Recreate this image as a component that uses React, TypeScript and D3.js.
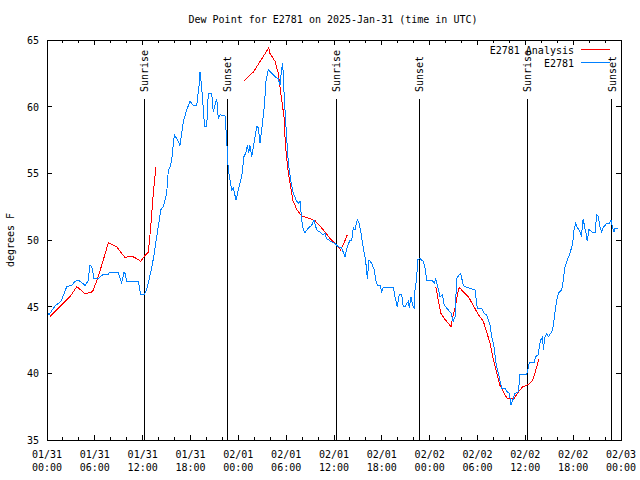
import React from "react";
import * as d3 from "d3";

const TITLE = "Dew Point for E2781 on 2025-Jan-31 (time in UTC)";
const Y_LABEL = "degrees F";
const yTicks = [35, 40, 45, 50, 55, 60, 65];
const xTickHours = [0, 6, 12, 18, 24, 30, 36, 42, 48, 54, 60, 66, 72];
const xTickDates = ["01/31", "01/31", "01/31", "01/31", "02/01", "02/01", "02/01", "02/01", "02/02", "02/02", "02/02", "02/02", "02/03"];
const xTickTimes = ["00:00", "06:00", "12:00", "18:00", "00:00", "06:00", "12:00", "18:00", "00:00", "06:00", "12:00", "18:00", "00:00"];
const xMinorHours = d3.range(0, 73, 2);

const sunLabels = ["Sunrise", "Sunset", "Sunrise", "Sunset", "Sunrise", "Sunset"];
const sunHours = [12.2, 22.62, 36.28, 46.7, 60.25, 70.83];

const seriesNames = ["E2781 Analysis", "E2781"];
const seriesColors = ["#ff0000", "#0080ff"];

// [hours since 01/31 00:00 UTC, dew point °F]
const observed: [number, number][] = [
  [0, 44.7], [0.25, 44.4], [1.0, 45.05], [1.76, 45.4], [2.47, 46.5], [3.1, 46.6], [3.51, 46.9], [3.89, 47.0],
  [4.35, 46.8], [4.77, 46.6], [5.14, 46.9], [5.39, 48.1], [5.61, 48.0], [5.9, 47.1], [6.4, 47.1], [7.02, 47.4],
  [7.65, 47.4], [7.9, 47.6], [8.9, 47.6], [9.37, 46.8], [9.66, 47.6], [9.78, 47.5], [10.0, 46.9], [11.45, 46.9],
  [11.75, 45.9], [12.17, 45.9], [12.51, 46.3], [12.83, 47.1], [13.13, 47.9], [13.46, 49.0], [13.76, 50.25],
  [14.09, 51.5], [14.26, 52.25], [14.59, 52.5], [14.8, 53.0], [15.01, 53.5], [15.22, 55.25], [15.43, 55.5],
  [15.64, 56.0], [15.77, 56.75], [15.97, 57.9], [16.27, 57.6], [16.68, 57.1], [16.9, 58.0], [17.1, 58.9],
  [17.52, 59.75], [17.94, 60.4], [18.35, 60.1], [18.78, 60.1], [19.1, 61.75], [19.19, 62.6], [19.41, 61.4],
  [19.69, 59.1], [19.82, 58.5], [20.03, 58.5], [20.23, 61.0], [20.66, 61.0], [20.86, 59.6], [21.07, 60.1],
  [21.29, 60.6], [21.49, 59.1], [21.7, 59.4], [22.33, 59.3], [22.54, 57.5], [22.62, 56.6], [22.74, 55.25],
  [22.95, 54.5], [23.17, 53.75], [23.37, 53.9], [23.71, 53.0], [24.0, 53.75], [24.42, 54.75], [24.71, 56.25],
  [24.92, 56.5], [25.13, 57.1], [25.3, 56.5], [25.46, 57.1], [25.68, 56.25], [26.09, 57.75], [26.3, 58.5],
  [26.5, 58.45], [26.72, 57.25], [26.93, 58.25], [27.26, 60.0], [27.47, 61.9], [27.76, 62.75], [28.19, 62.5],
  [28.6, 62.25], [29.01, 62.1], [29.23, 61.6], [29.44, 62.9], [29.57, 63.25], [29.73, 61.1], [29.98, 58.5],
  [30.27, 55.75], [30.57, 54.5], [30.9, 53.5], [31.32, 52.9], [31.61, 52.75], [31.74, 52.9], [31.95, 51.5],
  [32.15, 50.75], [32.36, 50.55], [32.78, 50.9], [33.2, 51.1], [33.49, 51.5], [33.83, 50.75], [34.24, 50.6],
  [34.58, 50.4], [34.87, 50.5], [35.08, 50.1], [35.59, 49.9], [36.13, 49.75], [36.54, 49.5], [36.97, 49.4],
  [37.38, 48.75], [37.67, 49.5], [38.01, 50.0], [38.22, 50.0], [38.42, 50.9], [38.63, 50.75], [38.92, 51.55],
  [39.14, 51.25], [39.39, 50.5], [39.68, 49.4], [39.98, 48.4], [40.18, 47.1], [40.39, 48.5], [40.73, 48.25],
  [41.06, 47.75], [41.27, 46.9], [41.48, 46.6], [41.77, 46.6], [41.98, 46.1], [42.18, 46.45], [43.44, 46.45],
  [43.65, 45.75], [43.94, 45.0], [44.19, 45.9], [44.49, 45.9], [44.69, 45.0], [44.91, 45.0], [45.12, 45.25],
  [45.32, 45.4], [45.45, 44.9], [45.66, 45.75], [45.87, 45.1], [46.04, 44.9], [46.16, 46.25], [46.37, 47.1],
  [46.5, 48.55], [46.79, 48.6], [47.2, 48.4], [47.42, 47.9], [47.63, 47.0], [48.26, 47.0], [48.58, 46.75],
  [48.76, 47.05], [49.01, 46.5], [49.3, 45.75], [49.59, 45.9], [49.84, 45.1], [50.14, 44.9], [50.68, 44.5],
  [50.96, 43.9], [51.18, 44.25], [51.39, 47.1], [51.68, 47.4], [51.89, 47.5], [52.22, 46.6], [52.43, 46.5],
  [52.93, 46.4], [53.69, 46.25], [53.97, 44.9], [54.53, 44.9], [54.82, 44.5], [55.15, 44.4], [55.57, 43.6],
  [55.78, 42.75], [56.07, 42.0], [56.32, 40.75], [56.61, 40.0], [57.04, 38.9], [57.45, 38.9], [57.74, 38.6],
  [57.99, 38.5], [58.2, 37.6], [58.49, 38.1], [58.7, 38.5], [59.12, 38.6], [59.33, 39.9], [60.17, 39.9],
  [60.25, 40.1], [60.5, 40.8], [61.09, 40.8], [61.3, 41.25], [61.63, 41.4], [61.75, 42.0], [61.93, 42.5],
  [62.18, 42.75], [62.25, 41.75], [62.47, 42.75], [62.68, 43.0], [62.88, 42.75], [63.31, 43.1], [63.51, 43.6],
  [63.72, 44.6], [63.94, 45.5], [64.14, 46.0], [64.56, 46.25], [64.76, 47.0], [64.98, 48.0], [65.27, 48.5],
  [65.6, 49.0], [65.94, 49.75], [66.11, 50.75], [66.32, 51.25], [66.52, 50.9], [66.77, 50.75], [66.95, 50.4],
  [67.07, 50.25], [67.15, 51.25], [67.27, 51.55], [67.4, 51.1], [67.61, 50.5], [67.77, 49.9], [67.99, 50.8],
  [68.33, 50.6], [68.74, 50.55], [68.95, 51.9], [69.15, 51.75], [69.37, 51.0], [69.58, 50.6], [69.78, 50.95],
  [70.21, 51.25], [70.53, 51.25], [70.75, 51.5], [70.91, 51.0], [71.12, 50.6], [71.25, 50.9], [71.66, 50.9],
];

const analysisSeg1: [number, number][] = [
  [0.38, 44.25], [0.59, 44.4], [1.42, 44.9], [2.26, 45.4], [2.89, 45.75], [3.73, 46.5], [4.14, 46.3],
  [4.77, 45.95], [5.61, 46.1], [5.81, 46.25], [6.43, 47.25], [7.06, 48.5], [7.69, 49.8], [8.32, 49.6],
  [8.74, 49.5], [9.37, 49.0], [9.78, 48.7], [10.62, 48.8], [11.25, 48.6], [11.75, 48.4], [12.17, 48.75],
  [12.71, 49.1], [12.92, 50.4], [13.13, 51.9], [13.33, 53.5], [13.46, 54.25], [13.67, 55.5],
];
const analysisSeg2: [number, number][] = [
  [24.75, 61.95], [25.88, 62.6], [27.81, 64.4], [27.97, 64.0], [28.6, 63.4], [29.01, 62.5], [29.44, 60.5],
  [29.73, 59.25], [29.92, 57.0], [30.27, 55.0], [30.57, 54.0], [30.82, 53.0], [31.32, 52.3], [31.95, 51.8],
  [32.99, 51.6], [33.62, 51.45], [34.24, 51.05], [34.87, 50.6], [35.51, 50.1], [36.34, 49.6], [36.84, 49.25],
  [37.25, 49.75], [37.67, 50.4],
];
const analysisSeg3: [number, number][] = [
  [48.76, 46.5], [49.08, 45.5], [49.42, 44.5], [49.84, 44.1], [50.34, 43.75], [50.68, 43.5], [50.96, 44.4],
  [51.27, 45.1], [51.47, 45.9], [51.72, 46.45], [52.22, 46.1], [52.85, 45.75], [53.47, 45.1], [54.1, 44.4],
  [54.73, 43.9], [55.15, 43.1], [55.57, 42.25], [55.91, 41.25], [56.32, 40.25], [56.82, 39.1], [57.32, 38.5],
  [57.74, 38.1], [58.58, 38.1], [59.12, 38.6], [59.67, 39.0], [60.17, 39.1], [60.67, 39.3], [60.93, 39.5],
  [61.21, 40.0], [61.43, 40.5], [61.72, 41.1],
];
const analysisSegments = [analysisSeg1, analysisSeg2, analysisSeg3];

const W = 640;
const H = 480;
const M = { left: 47, right: 621, top: 40, bottom: 440 };
const FONT = "'DejaVu Sans Mono', 'Liberation Mono', monospace";

export default function App() {
  const x = d3.scaleLinear().domain([0, 72]).range([M.left, M.right]);
  const y = d3.scaleLinear().domain([35, 65]).range([M.bottom, M.top]);
  const line = d3
    .line<[number, number]>()
    .x((d) => x(d[0]))
    .y((d) => y(d[1]));
  const major = 5;
  const minor = 3;
  const labelBottom = 92;
  const lineTop = 99;

  return (
    <svg
      width={W}
      height={H}
      viewBox={`0 0 ${W} ${H}`}
      style={{ position: "absolute", left: 0, top: 0, background: "#fff" }}
      fontFamily={FONT}
      fontSize={10}
    >
      <rect x={0} y={0} width={W} height={H} fill="#fff" />
      <text x={333} y={23} textAnchor="middle" fill="#000">
        {TITLE}
      </text>
      <text transform={`translate(14,240) rotate(-90)`} textAnchor="middle" fill="#000">
        {Y_LABEL}
      </text>

      <g stroke="#000" shapeRendering="crispEdges">
        {yTicks.map((t) => (
          <g key={t}>
            <line x1={M.left} x2={M.left + major} y1={y(t)} y2={y(t)} />
            <line x1={M.right} x2={M.right - major} y1={y(t)} y2={y(t)} />
          </g>
        ))}
        {xMinorHours.map((h) => {
          const len = h % 6 === 0 ? major : minor;
          return (
            <g key={h}>
              <line x1={x(h)} x2={x(h)} y1={M.bottom} y2={M.bottom - len} />
              <line x1={x(h)} x2={x(h)} y1={M.top} y2={M.top + len} />
            </g>
          );
        })}
      </g>
      {yTicks.map((t) => (
        <text key={t} x={39} y={y(t) + 4} textAnchor="end" fill="#000">
          {t}
        </text>
      ))}
      {xTickHours.map((h, i) => (
        <g key={h}>
          <text x={x(h)} y={458} textAnchor="middle" fill="#000">
            {xTickDates[i]}
          </text>
          <text x={x(h)} y={471} textAnchor="middle" fill="#000">
            {xTickTimes[i]}
          </text>
        </g>
      ))}

      {sunHours.map((h, i) => (
        <g key={i}>
          <line
            x1={x(h)}
            x2={x(h)}
            y1={lineTop}
            y2={M.bottom}
            stroke="#000"
            shapeRendering="crispEdges"
          />
          <text
            transform={`translate(${x(h) + 4},${labelBottom}) rotate(-90)`}
            textAnchor="start"
            fill="#000"
          >
            {sunLabels[i]}
          </text>
        </g>
      ))}

      {analysisSegments.map((seg, i) => (
        <path
          key={i}
          d={line(seg) || ""}
          fill="none"
          stroke={seriesColors[0]}
          strokeWidth={1}
          shapeRendering="crispEdges"
        />
      ))}
      <path
        d={line(observed) || ""}
        fill="none"
        stroke={seriesColors[1]}
        strokeWidth={1}
        shapeRendering="crispEdges"
      />

      {seriesNames.map((n, i) => (
        <g key={n}>
          <text x={574} y={54 + i * 13} textAnchor="end" fill="#000">
            {n}
          </text>
          <line
            x1={581}
            x2={610}
            y1={49.5 + i * 13}
            y2={49.5 + i * 13}
            stroke={seriesColors[i]}
            shapeRendering="crispEdges"
          />
        </g>
      ))}

      <rect
        x={M.left}
        y={M.top}
        width={M.right - M.left}
        height={M.bottom - M.top}
        fill="none"
        stroke="#000"
        shapeRendering="crispEdges"
      />
    </svg>
  );
}
